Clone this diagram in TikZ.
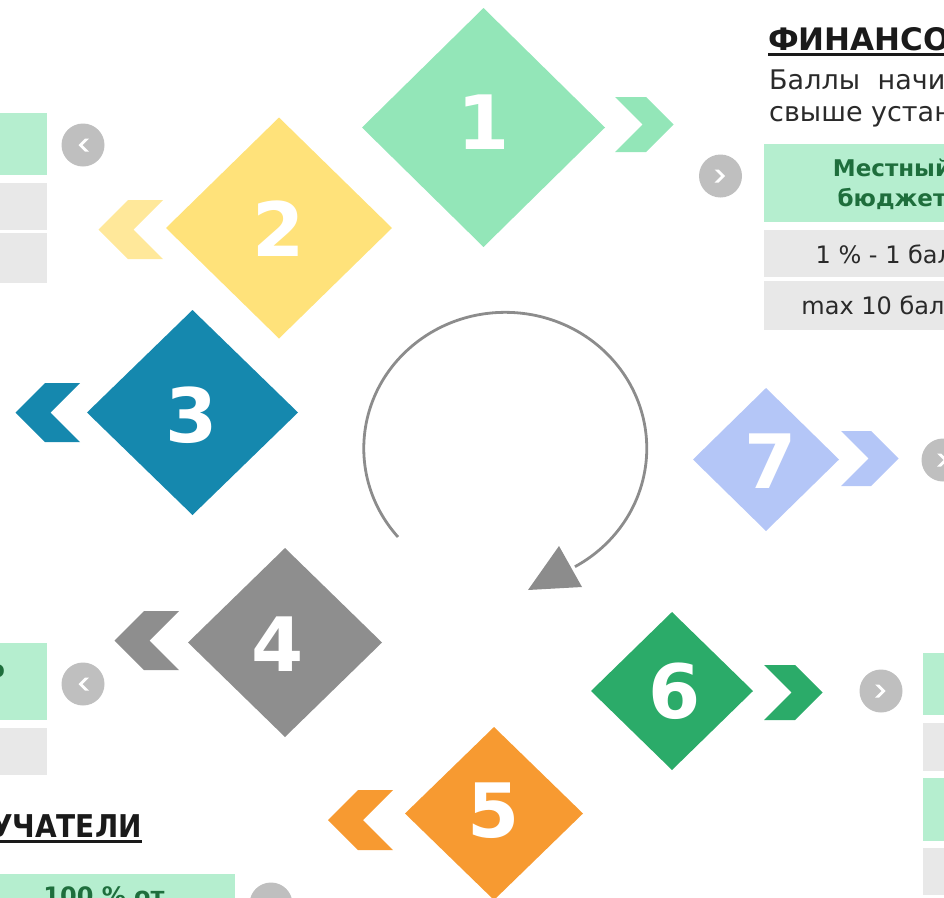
\documentclass[tikz,border=0pt]{standalone}
\usepackage{fontspec}
\setmainfont{DejaVu Sans}
\usetikzlibrary{shapes.geometric}
\definecolor{dOne}{HTML}{93E6B8}
\definecolor{dTwo}{HTML}{FFE27A}
\definecolor{cTwo}{HTML}{FFE89A}
\definecolor{dThree}{HTML}{1588AE}
\definecolor{dFour}{HTML}{8E8E8E}
\definecolor{dFive}{HTML}{F79A31}
\definecolor{dSix}{HTML}{2BAB69}
\definecolor{dSeven}{HTML}{B4C6F7}
\definecolor{btnGray}{HTML}{BFBFBF}
\definecolor{cellGreen}{HTML}{B5EECF}
\definecolor{cellGray}{HTML}{E8E8E8}
\definecolor{darkG}{HTML}{1E6E3C}
\definecolor{titleC}{HTML}{1A1A1A}
\definecolor{bodyC}{HTML}{2A2A2A}
\definecolor{arcC}{HTML}{8C8C8C}
\newcommand{\mychevR}[5]{\fill[#1] (#2,#3) -- ++(#5,0) -- ++(#4,#4) -- ++(-#4,#4) -- ++(-#5,0) -- ++(#4,-#4) -- cycle;}
\newcommand{\mychevL}[5]{\fill[#1] (#2,#3) -- ++(-#5,0) -- ++(-#4,#4) -- ++(#4,#4) -- ++(#5,0) -- ++(-#4,-#4) -- cycle;}
\tikzset{
  dia/.style={shape=diamond, inner sep=0pt, outer sep=0pt, fill=#1, draw=none},
  num/.style={inner sep=0pt, text=white, font=\fontsize{75}{75}\selectfont\bfseries},
  btn/.style={circle, fill=btnGray, minimum size=43pt, inner sep=0pt, draw=none},
  hd/.style={text=darkG, font=\fontsize{23}{30}\selectfont\bfseries, align=center, inner sep=0pt},
  cell/.style={text=bodyC, font=\fontsize{24}{26}\selectfont, inner sep=0pt},
  ttl/.style={text=titleC, font=\fontsize{31}{34}\selectfont\bfseries, inner sep=0pt},
  bodytxt/.style={text=bodyC, font=\fontsize{27}{32}\selectfont, inner sep=0pt},
  arcline/.style={draw=arcC, line width=2.8pt}
}
\begin{document}
\begin{tikzpicture}[x=1pt,y=-1pt]
\useasboundingbox (0,0) rectangle (944,897);
\clip (0,0) rectangle (944,897);

% ---------- tables ----------
% top-left
\fill[cellGreen] (-20,113) rectangle (47,175);
\fill[cellGray] (-20,183) rectangle (47,230);
\fill[cellGray] (-20,233) rectangle (47,283);
% left middle
\fill[cellGreen] (-20,643) rectangle (47,720);
\fill[cellGray] (-20,728) rectangle (47,775);
\node[hd, anchor=east] (lm) at (5,669) {Количество};
% bottom-left
\node[ttl, anchor=base east, font=\fontsize{28}{32}\selectfont\bfseries] (t2) at (142,837) {\scalebox{1}[1.12]{ПОЛУЧАТЕЛИ}};
\draw[titleC, line width=3pt] ([yshift=-4pt]t2.base west) -- ([yshift=-4pt]t2.base east);
\fill[cellGreen] (-20,874) rectangle (235,920);
\node[hd, anchor=north, font=\fontsize{24}{30}\selectfont\bfseries] (bl) at (104,886) {100 \% от};
% top-right
\node[ttl, anchor=base west] (t1) at (768,50) {ФИНАНСОВОЕ УЧАСТИЕ};
\draw[titleC, line width=3pt] ([yshift=-4pt]t1.base west) -- ([yshift=-4pt]t1.base east);
\node[bodytxt, anchor=base west] (b1) at (769,89) {Баллы\hspace{9pt} начисляются};
\node[bodytxt, anchor=base west] (b2) at (769,121) {свыше установленного};
\fill[cellGreen] (764,144) rectangle (1020,222);
\fill[cellGray] (764,230) rectangle (1020,277);
\fill[cellGray] (764,281) rectangle (1020,330);
\node[hd] (h1) at (892,184) {Местный\\бюджет};
\node[cell] (r1) at (892,254) {1 \% - 1 балл};
\node[cell] (r2) at (895,305) {max 10 баллов};
% bottom-right
\fill[cellGreen] (923,653) rectangle (980,715);
\fill[cellGray] (923,723) rectangle (980,771);
\fill[cellGreen] (923,778) rectangle (980,841);
\fill[cellGray] (923,848) rectangle (980,895);

% ---------- buttons ----------
\node[btn] (ba) at (83,145) {};
\mychevL{white}{89}{138.5}{6.5}{4}
\node[btn] (bb) at (720.5,176) {};
\mychevR{white}{714.5}{169.5}{6.5}{4}
\node[btn] (bc) at (943,460) {};
\mychevR{white}{937}{453.5}{6.5}{4}
\node[btn] (bd) at (881,691) {};
\mychevR{white}{875}{684.5}{6.5}{4}
\node[btn] (be) at (83,684) {};
\mychevL{white}{89}{677.5}{6.5}{4}
\node[btn] (bf) at (271,904) {};

% ---------- chevrons ----------
\mychevR{dOne}{615}{97}{27.5}{31}
\mychevL{cTwo}{163}{200}{29.5}{35}
\mychevL{dThree}{80}{383}{29.5}{35}
\mychevL{dFour}{179}{611}{29.5}{35}
\mychevL{dFive}{393}{790}{30}{35}
\mychevR{dSix}{764}{665}{27.5}{31}
\mychevR{dSeven}{841}{431}{27.5}{30}

% ---------- diamonds ----------
\node[dia=dOne, minimum width=243pt, minimum height=239pt] (d1) at (483.5,127.5) {};
\node[dia=dTwo, minimum width=226pt, minimum height=221pt] (d2) at (279,228) {};
\node[dia=dThree, minimum width=211pt, minimum height=205pt] (d3) at (192.5,412.5) {};
\node[dia=dFour, minimum width=194pt, minimum height=189pt] (d4) at (285,642.5) {};
\node[dia=dFive, minimum width=178pt, minimum height=173pt] (d5) at (494,813.5) {};
\node[dia=dSix, minimum width=162pt, minimum height=158pt] (d6) at (672,691) {};
\node[dia=dSeven, minimum width=146pt, minimum height=143pt] (d7) at (766,459.5) {};

\node[num] (n1) at (484,122) {1};
\node[num] (n2) at (279,229) {2};
\node[num] (n3) at (191.5,415) {3};
\node[num] (n4) at (277.5,644) {4};
\node[num] (n5) at (494,810.5) {5};
\node[num] (n6) at (675,691.5) {6};
\node[num] (n7) at (771,461.5) {7};

% ---------- cycle arrow ----------
\coordinate (arcstart) at (398,537);
\draw[arcline] (arcstart) arc[start angle=139.3, end angle=420.5, x radius=141.5, y radius=136];
\coordinate (tipA) at (559,546);
\coordinate (tipB) at (582,587);
\coordinate (tipC) at (528,590);
\fill[arcC] (tipA) -- (tipB) -- (tipC) -- cycle;
\end{tikzpicture}
\end{document}
